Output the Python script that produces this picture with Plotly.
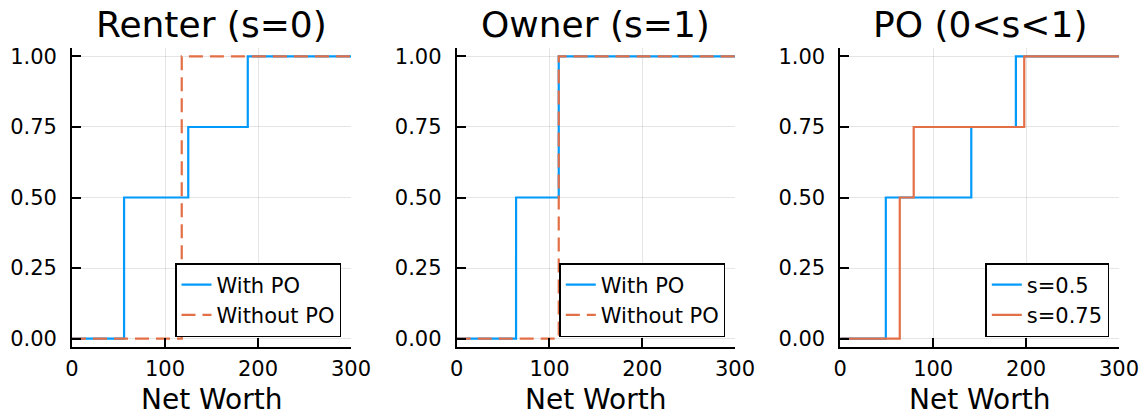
import plotly.graph_objects as go

# Net worth breakpoints of each empirical CDF (step functions)
renter_with_x = [0, 56, 125, 189, 300]
renter_with_y = [0, 0.5, 0.75, 1.0, 1.0]
renter_without_x = [0, 118, 300]
renter_without_y = [0, 1.0, 1.0]

owner_with_x = [0, 64, 110, 300]
owner_with_y = [0, 0.5, 1.0, 1.0]
owner_without_x = [0, 110, 300]
owner_without_y = [0, 1.0, 1.0]

po_s05_x = [0, 49, 141, 189, 300]
po_s05_y = [0, 0.5, 0.75, 1.0, 1.0]
po_s075_x = [0, 64, 79, 198, 300]
po_s075_y = [0, 0.5, 0.75, 1.0, 1.0]

titles = ["Renter (s=0)", "Owner (s=1)", "PO (0<s<1)"]
x_ticks = [0, 100, 200, 300]
y_ticks = [0, 0.25, 0.5, 0.75, 1.0]
y_tick_text = ["0.00", "0.25", "0.50", "0.75", "1.00"]

BLUE = "#009AFA"
ORANGE = "#E36F47"
FONT = "DejaVu Sans"
W, H = 1145, 417

# plot-area placement in pixels
x_px = [(72, 351), (456.7, 735), (840.3, 1119)]
y_px = (48, 347)
legend_right_px = [341, 725.3, 1109.3]
legend_bottom_px = 337

fig = go.Figure()

panels = [
    [("With PO", renter_with_x, renter_with_y, BLUE, "solid"),
     ("Without PO", renter_without_x, renter_without_y, ORANGE, "14px,7px")],
    [("With PO", owner_with_x, owner_with_y, BLUE, "solid"),
     ("Without PO", owner_without_x, owner_without_y, ORANGE, "14px,7px")],
    [("s=0.5", po_s05_x, po_s05_y, BLUE, "solid"),
     ("s=0.75", po_s075_x, po_s075_y, ORANGE, "solid")],
]

layout = dict(
    width=W, height=H,
    margin=dict(l=0, r=0, t=0, b=0),
    paper_bgcolor="white", plot_bgcolor="white",
    font=dict(family=FONT, color="black", size=21),
    annotations=[],
)

for i, series in enumerate(panels):
    sfx = "" if i == 0 else str(i + 1)
    leg = "legend" if i == 0 else f"legend{i + 1}"
    for name, xs, ys, col, dash in series:
        fig.add_trace(go.Scatter(
            x=xs, y=ys, name=name, mode="lines", line_shape="hv",
            line=dict(color=col, width=2.2, dash=dash),
            xaxis=f"x{sfx}", yaxis=f"y{sfx}", legend=leg,
        ))
    x0, x1 = x_px[i]
    axis_common = dict(
        showline=True, linecolor="black", linewidth=1.8,
        ticks="inside", ticklen=9, tickwidth=1.5, tickcolor="black",
        showgrid=True, gridcolor="rgba(0,0,0,0.1)", gridwidth=1.2,
        zeroline=False, automargin=False,
        tickfont=dict(family=FONT, size=21, color="black"),
    )
    layout[f"xaxis{sfx}"] = dict(
        axis_common, domain=[x0 / W, x1 / W], range=[0, 300],
        tickvals=x_ticks, anchor=f"y{sfx}", ticklabelstandoff=2,
    )
    layout[f"yaxis{sfx}"] = dict(
        axis_common, domain=[(H - y_px[1]) / H, (H - y_px[0]) / H],
        range=[-0.03, 1.03], tickvals=y_ticks, ticktext=y_tick_text,
        anchor=f"x{sfx}", ticklabelstandoff=9,
    )
    layout[leg] = dict(
        x=legend_right_px[i] / W, xanchor="right",
        y=(H - legend_bottom_px) / H, yanchor="bottom",
        bgcolor="white", bordercolor="black", borderwidth=1.5,
        font=dict(family=FONT, size=21, color="black"),
        tracegroupgap=0,
    )
    cx = (x0 + x1) / 2 / W
    layout["annotations"].append(dict(
        text=titles[i], x=cx, y=(H - 25) / H, xref="paper", yref="paper",
        xanchor="center", yanchor="middle", showarrow=False,
        font=dict(family=FONT, size=36, color="black"),
    ))
    layout["annotations"].append(dict(
        text="Net Worth", x=cx, y=0, xref="paper", yref="paper",
        xanchor="center", yanchor="bottom", showarrow=False, borderpad=0,
        font=dict(family=FONT, size=28, color="black"),
    ))

fig.update_layout(**layout)
fig.write_html("out.html")
